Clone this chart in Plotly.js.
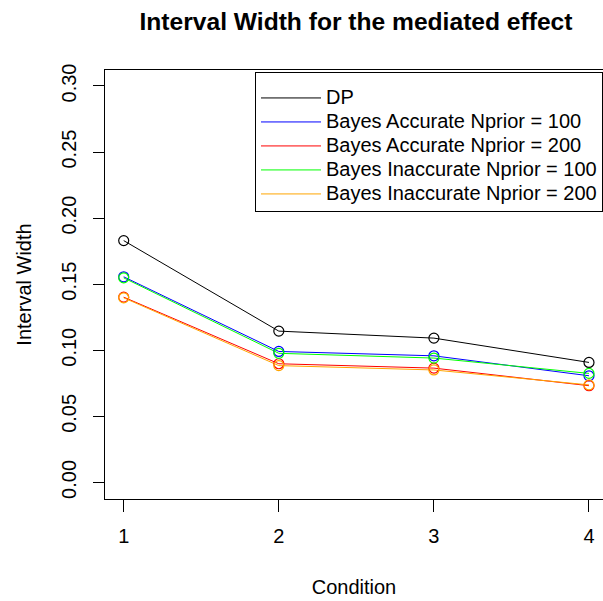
<!DOCTYPE html>
<html>
<head>
<meta charset="utf-8">
<script src="https://cdn.plot.ly/plotly-3.0.1.min.js"></script>
<style>html,body{margin:0;padding:0;background:#fff;}#chart{width:603px;height:601px;}</style>
</head>
<body>
<div id="chart"></div>
<script>
const conditions = [1, 2, 3, 4];
const seriesNames = ["DP", "Bayes Accurate Nprior = 100", "Bayes Accurate Nprior = 200", "Bayes Inaccurate Nprior = 100", "Bayes Inaccurate Nprior = 200"];
const dp = [0.183, 0.1145, 0.1092, 0.0908];
const bayesAcc100 = [0.1556, 0.0991, 0.0958, 0.0807];
const bayesAcc200 = [0.1402, 0.0898, 0.0865, 0.0732];
const bayesInacc100 = [0.1548, 0.0977, 0.0941, 0.0825];
const bayesInacc200 = [0.1397, 0.0884, 0.0851, 0.0738];
const colors = ["#000000", "#0000FF", "#FF0000", "#00FF00", "#FFA500"];
const yTicks = [0, 0.05, 0.10, 0.15, 0.20, 0.25, 0.30];
const yTickLabels = ["0.00", "0.05", "0.10", "0.15", "0.20", "0.25", "0.30"];

const allSeries = [dp, bayesAcc100, bayesAcc200, bayesInacc100, bayesInacc200];
const FONT = "Liberation Sans, Arial, sans-serif";
const traces = [];
allSeries.forEach((vals, i) => {
  traces.push({
    x: conditions, y: vals, type: "scatter", mode: "lines",
    name: '<span style="font-size:20px">' + seriesNames[i] + '</span>',
    line: {color: colors[i], width: 1},
    showlegend: true, hoverinfo: "skip"
  });
});
allSeries.forEach((vals, i) => {
  traces.push({
    x: conditions, y: vals, type: "scatter", mode: "markers",
    marker: {symbol: "circle-open", size: 10, color: colors[i], line: {width: 1.2, color: colors[i]}},
    showlegend: false, hoverinfo: "skip"
  });
});

const layout = {
  width: 603, height: 601,
  paper_bgcolor: "#ffffff", plot_bgcolor: "#ffffff",
  margin: {l: 105, r: 0, t: 70, b: 102, pad: 0},
  font: {family: FONT, size: 20, color: "#000"},
  title: {text: "<b>Interval Width for the mediated effect</b>", font: {family: FONT, size: 24.6, color: "#000"},
          x: 0.504, xref: "paper", xanchor: "center", y: 1 - 21/601, yref: "container", yanchor: "middle"},
  xaxis: {
    range: [0.8794, 4.0903], tickvals: conditions, ticktext: conditions.map(String),
    showgrid: false, zeroline: false, showline: true, linecolor: "#000", linewidth: 1, mirror: true,
    ticks: "outside", ticklen: 12, tickcolor: "#000", tickwidth: 1, ticklabelstandoff: 7,
    tickfont: {family: FONT, size: 20, color: "#000"},
    title: {text: "Condition", font: {family: FONT, size: 20, color: "#000"}, standoff: 33},
    automargin: false, fixedrange: true
  },
  yaxis: {
    range: [-0.01255, 0.3121], tickvals: yTicks, ticktext: yTickLabels, tickangle: -90,
    showgrid: false, zeroline: false, showline: true, linecolor: "#000", linewidth: 1, mirror: false,
    ticks: "outside", ticklen: 11, tickcolor: "#000", tickwidth: 1, ticklabelstandoff: 9,
    tickfont: {family: FONT, size: 20, color: "#000"},
    title: {text: "Interval Width", font: {family: FONT, size: 20, color: "#000"}, standoff: 21},
    automargin: false, fixedrange: true
  },
  legend: {
    x: 1, xanchor: "right", xref: "paper", y: 0.995, yanchor: "top", yref: "paper",
    bgcolor: "#ffffff", bordercolor: "#000", borderwidth: 1,
    font: {family: FONT, size: 16.15, color: "#000"}, itemwidth: 60, tracegroupgap: 0,
    title: {text: " ", font: {family: FONT, size: 6}}
  },
  showlegend: true
};

Plotly.newPlot("chart", traces, layout, {displayModeBar: false, staticPlot: true});
</script>
</body>
</html>
